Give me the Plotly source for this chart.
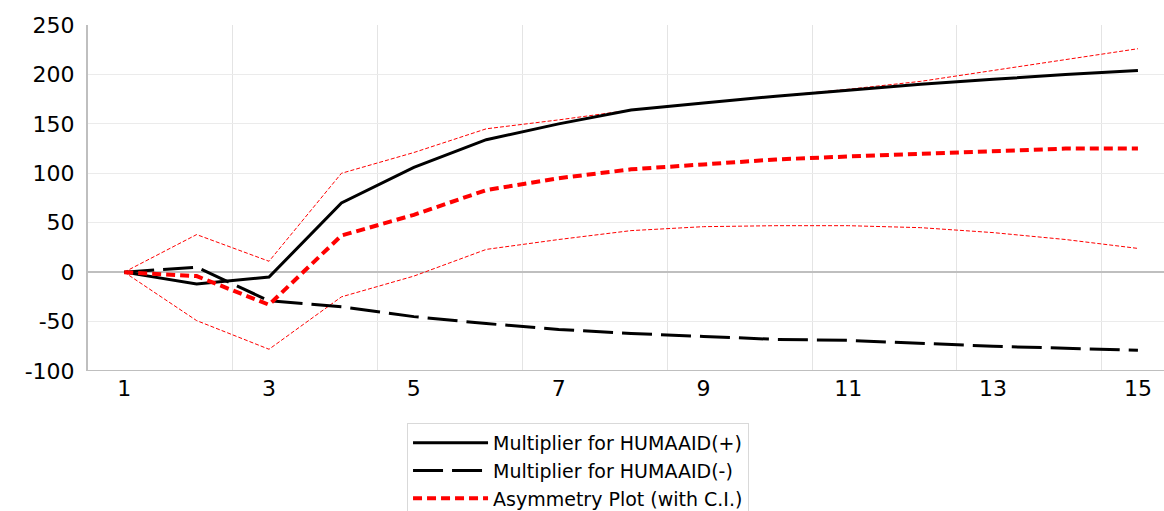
import plotly.graph_objects as go

periods = list(range(1, 16))
mult_pos = [0, -12, -5, 70, 106, 134, 150, 164, 171, 178, 184, 190, 195, 200, 204]
mult_neg = [0, 5, -29, -35, -45, -52, -58, -62, -65, -68, -69, -72, -75, -77, -79]
asym = [0, -4, -33, 37, 58, 83, 95, 104, 109, 114, 117, 120, 122, 125, 125]
ci_upper = [0, 38, 11, 100, 121, 145, 154, 164, 171, 178, 185, 193, 204, 215, 226]
ci_lower = [0, -49, -78, -25, -4, 23, 33, 42, 46, 47, 47, 45, 40, 33, 24]
x_tick_vals = [1, 3, 5, 7, 9, 11, 13, 15]
x_tick_text = ["1", "3", "5", "7", "9", "11", "13", "15"]
y_tick_vals = [-100, -50, 0, 50, 100, 150, 200, 250]
y_tick_text = ["-100", "-50", "0", "50", "100", "150", "200", "250"]

FONT = "DejaVu Sans"

fig = go.Figure()
fig.add_trace(go.Scatter(x=periods, y=ci_upper, mode="lines", showlegend=False,
                         line=dict(color="#ff0000", width=1, dash="4px,2px")))
fig.add_trace(go.Scatter(x=periods, y=ci_lower, mode="lines", showlegend=False,
                         line=dict(color="#ff0000", width=1, dash="4px,2px")))
fig.add_trace(go.Scatter(x=periods, y=mult_pos, mode="lines", name="Multiplier for HUMAAID(+)",
                         line=dict(color="#000000", width=3)))
fig.add_trace(go.Scatter(x=periods, y=mult_neg, mode="lines", name="Multiplier for HUMAAID(-)",
                         line=dict(color="#000000", width=3, dash="30px,9px")))
fig.add_trace(go.Scatter(x=periods, y=asym, mode="lines", name="Asymmetry Plot (with C.I.)",
                         line=dict(color="#ff0000", width=4, dash="9px,5px")))

fig.update_layout(
    width=1164, height=511,
    margin=dict(l=88, r=0, t=25, b=140, autoexpand=False),
    paper_bgcolor="white", plot_bgcolor="white",
    font=dict(family=FONT, color="#000000"),
    xaxis=dict(range=[0.5, 15.36], tickmode="array", tickvals=x_tick_vals, ticktext=x_tick_text,
               showgrid=False, zeroline=False, showline=False, ticks="",
               tickfont=dict(size=22, family=FONT), ticklabelstandoff=2,
               minor=dict(tick0=0.5, dtick=2, showgrid=True, gridcolor="#e4e4e4", gridwidth=1, ticks="")),
    yaxis=dict(range=[-100, 250], tickmode="array", tickvals=y_tick_vals, ticktext=y_tick_text,
               showgrid=True, gridcolor="#ebebeb", gridwidth=1,
               zeroline=True, zerolinecolor="#bfbfbf", zerolinewidth=1.5,
               showline=True, linecolor="#bfbfbf", linewidth=2, ticks="",
               tickfont=dict(size=22, family=FONT), ticklabelstandoff=7),
    legend=dict(x=0.2965, y=-0.150, xanchor="left", yanchor="top",
                bgcolor="white", bordercolor="#d9d9d9", borderwidth=1,
                font=dict(size=19, family=FONT), itemwidth=75, tracegroupgap=0),
)
fig.add_shape(type="line", xref="paper", yref="y", x0=0, x1=1, y0=-100, y1=-100,
              line=dict(color="#bfbfbf", width=2), layer="above")

fig.write_html("out.html")
